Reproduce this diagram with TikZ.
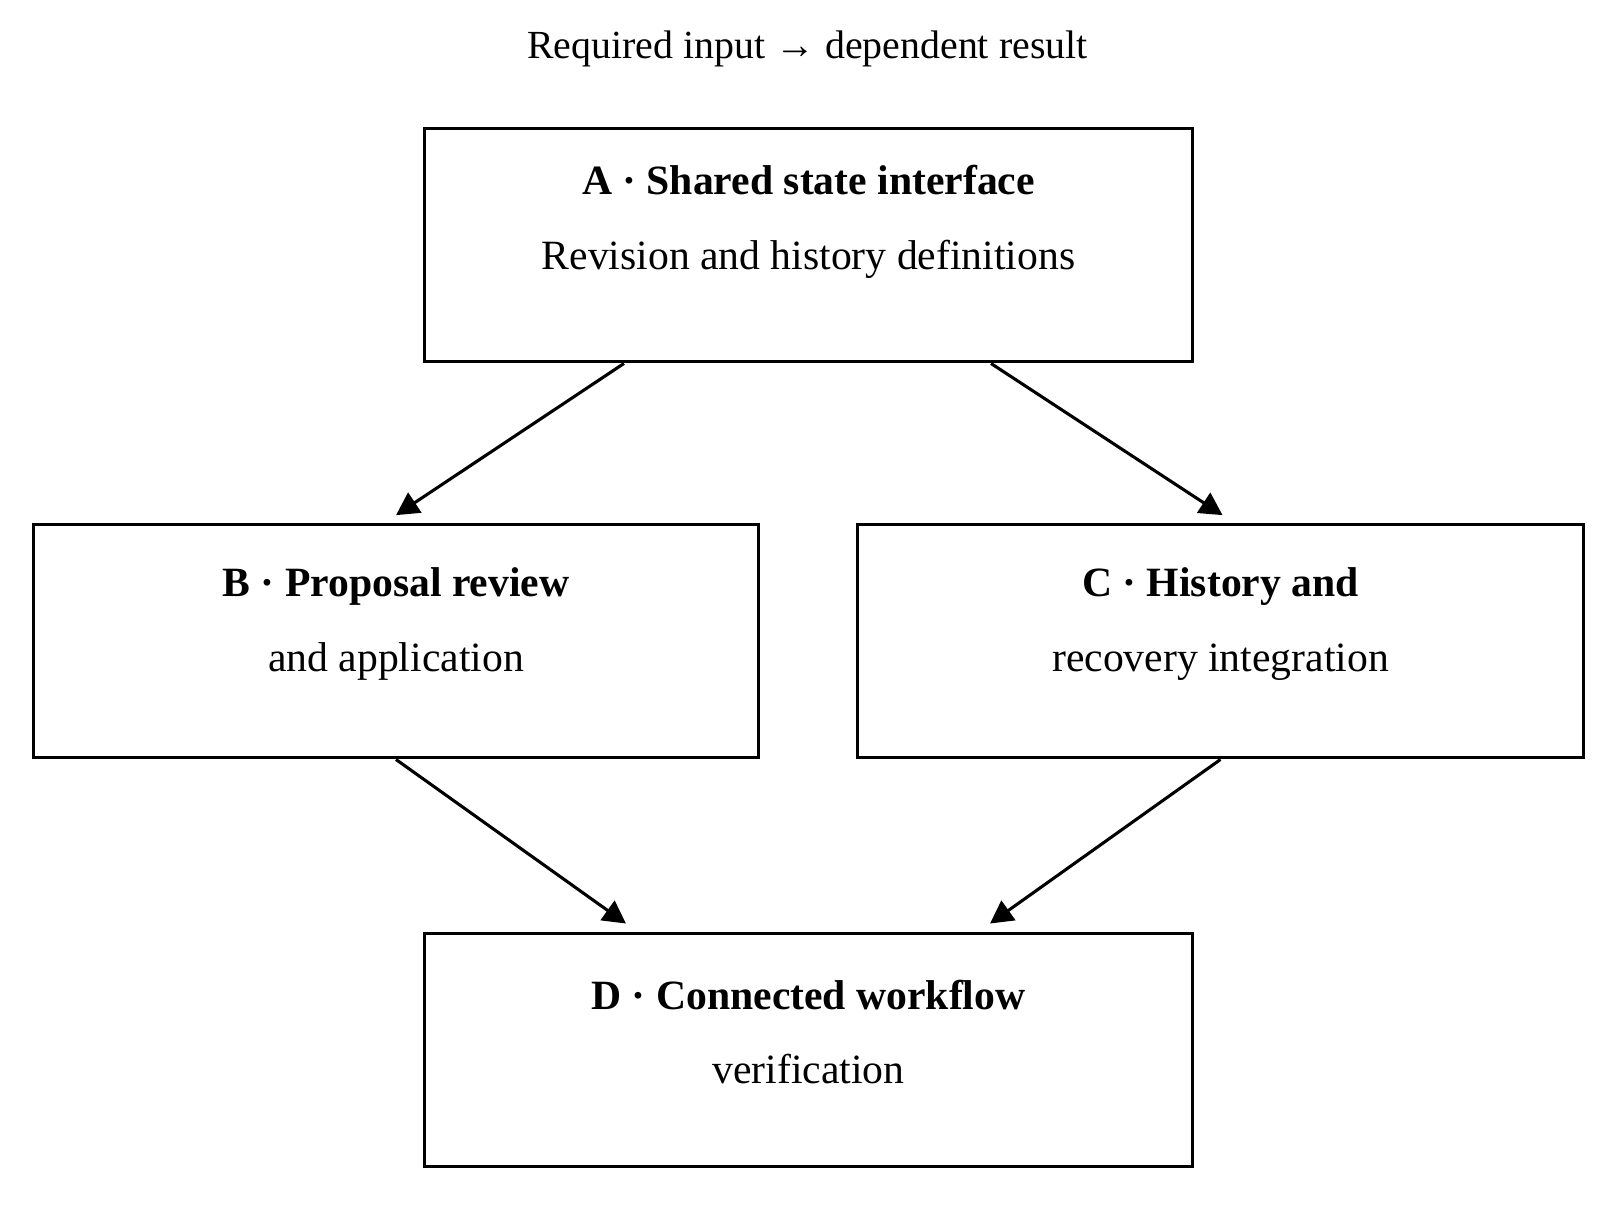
\documentclass[tikz,border=0pt]{standalone}
\usepackage{fontspec}
\setmainfont{Liberation Serif}
\usetikzlibrary{arrows.meta, calc}

\begin{document}
\begin{tikzpicture}[
        x=0.02cm, y=-0.02cm,
        box/.style={draw, line width=1.7pt, rectangle, minimum width=14.88cm, minimum height=4.52cm},
        txt/.style={align=center, font=\fontsize{23}{41}\selectfont},
        arrow/.style={-{Triangle[length=0.44cm,width=0.46cm]}, line width=1.7pt}
    ]
        \useasboundingbox (0,0) rectangle (1568,1180);

        % Title
        \node[font=\fontsize{22}{26}\selectfont] (title) at (783,47) {Required input → dependent result};

        % Boxes
        \node[box] (A) at (784,238) {};
        \node[box, minimum width=14.08cm] (B) at (384,622) {};
        \node[box, minimum width=14.08cm] (C) at (1183.5,622) {};
        \node[box] (D) at (784,1018) {};

        % Labels
        \node[txt] (Atxt) at ($(A)+(0,-23)$) {\textbf{A · Shared state interface}\\Revision and history definitions};
        \node[txt] (Btxt) at ($(B)+(0,-17)$) {\textbf{B · Proposal review}\\and application};
        \node[txt] (Ctxt) at ($(C)+(0,-17)$) {\textbf{C · History and}\\recovery integration};
        \node[txt] (Dtxt) at ($(D)+(0,-17)$) {\textbf{D · Connected workflow}\\verification};

        % Arrows
        \draw[arrow] ($(A.south)+(-179,0)$) -- ($(B.north)+(0,-8)$);
        \draw[arrow] ($(A.south)+(177,0)$) -- ($(C.north)+(2,-8)$);
        \draw[arrow] (B.south) -- ($(D.north)+(-177,-8)$);
        \draw[arrow] (C.south) -- ($(D.north)+(176,-8)$);
    \end{tikzpicture}
\end{document}
